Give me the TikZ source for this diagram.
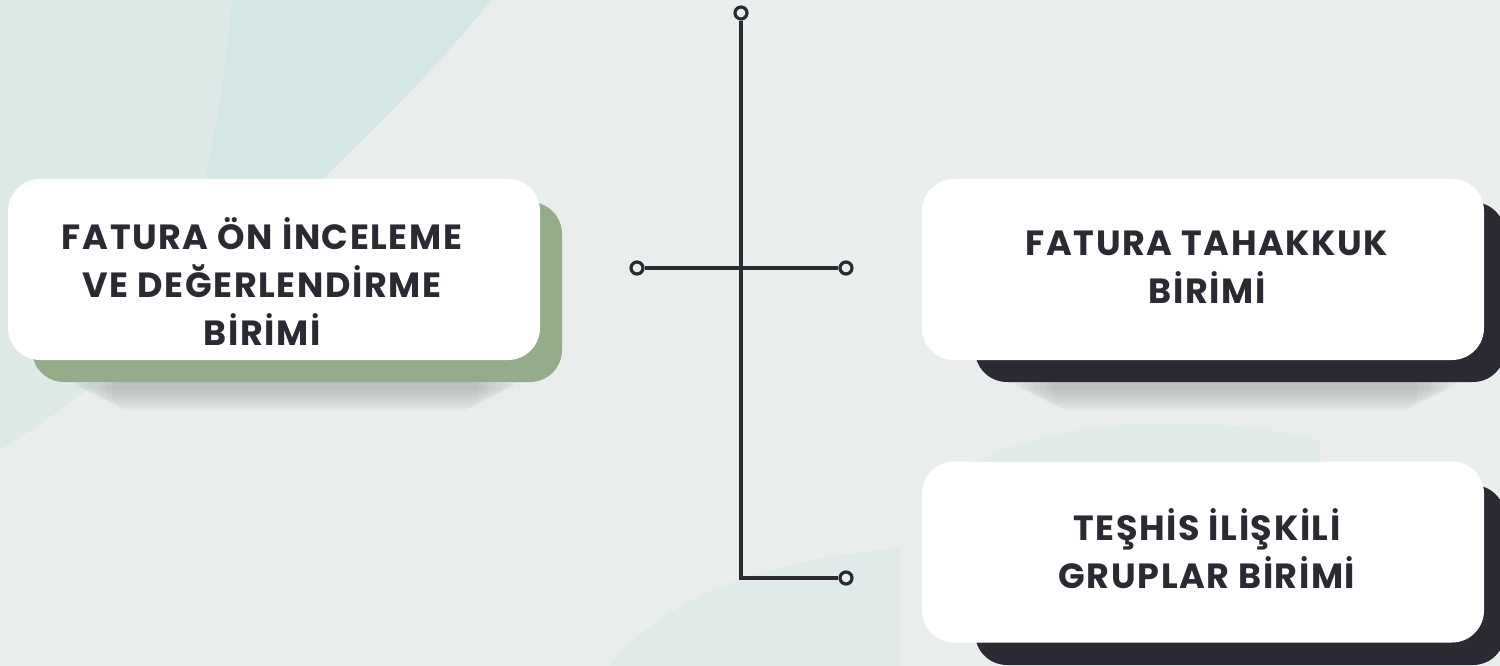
\documentclass[tikz,border=0pt]{standalone}
\usepackage{fontspec}
\setmainfont{Poppins}[LetterSpace=4.5]
\definecolor{ink}{HTML}{2B2A33}
\definecolor{bgc}{HTML}{E9EEED}
\definecolor{mint}{HTML}{DDEAE8}
\definecolor{mintd}{HTML}{D3E7E5}
\definecolor{sage}{HTML}{94AC89}
\begin{document}
\begin{tikzpicture}[x=1pt,y=-1pt,
  lbl/.style={font=\bfseries\fontsize{35}{48}\selectfont, text=ink, align=center, inner sep=0pt},
  card/.style={fill=white, rounded corners=32pt, minimum width=#1, minimum height=181pt, inner sep=0pt},
  back/.style={fill=#1, rounded corners=32pt, minimum height=180pt, inner sep=0pt},
  dot/.style={circle, draw=ink, line width=3.2pt, fill=bgc, minimum size=12pt, inner sep=0pt},
  conn/.style={draw=ink, line width=3.4pt, line join=miter},
  softshade/.style={fill=black, opacity=0.022}]
\useasboundingbox (0,0) rectangle (1500,666);
% background
\fill[bgc] (0,0) rectangle (1500,666);
\fill[mint] (0,0) -- (491,0) .. controls (420,90) and (330,170) .. (250,250)
  .. controls (170,330) and (80,400) .. (0,450) -- cycle;
\fill[mintd, opacity=0.7] (232,0) -- (491,0) .. controls (420,90) and (330,170) .. (250,250)
  -- (190,250) .. controls (210,160) and (226,80) .. (232,0) -- cycle;
\fill[mint, opacity=0.8] (610,666) .. controls (660,600) and (760,560) .. (900,548) -- (900,666) -- cycle;
\fill[mint, opacity=0.6] (960,470) .. controls (1040,420) and (1200,410) .. (1320,440) -- (1320,470) -- cycle;
% soft shadows under back cards
\foreach \i in {0,...,7}{
  \fill[softshade, rounded corners=18pt] (70+6*\i,372) rectangle (520-6*\i,390+3*\i);
  \fill[softshade, rounded corners=18pt] (1010+6*\i,372) rectangle (1460-6*\i,390+3*\i);
}
% back cards
\node[back=sage, minimum width=530pt] (g1) at (297,292) {};
\node[back=ink, minimum width=530pt] (k2) at (1240,292) {};
\node[back=ink, minimum width=530pt] (k3) at (1240,575) {};
% front cards
\node[card=532pt] (c1) at (274,269.5) {};
\node[card=562pt] (c2) at (1203,269.5) {};
\node[card=562pt] (c3) at (1203,552) {};
% labels
\node[lbl] (t1) at (262,282) {FATURA ÖN İNCELEME\\VE DEĞERLENDİRME\\BİRİMİ};
\node[lbl] (t2) at (1207,267) {FATURA TAHAKKUK\\BİRİMİ};
\node[lbl] (t3) at (1207,549) {TEŞHİS İLİŞKİLİ\\GRUPLAR BİRİMİ};
% connectors
\node[dot] (top) at (741,13) {};
\node[dot] (ld) at (637,268) {};
\node[dot] (rd) at (846,268) {};
\node[dot] (bd) at (846,578) {};
\draw[conn] (ld) -- (rd);
\draw[conn] (top) |- (bd);
\end{tikzpicture}
\end{document}
